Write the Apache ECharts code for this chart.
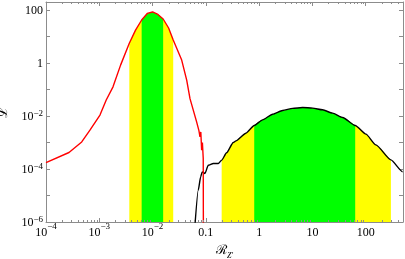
<!DOCTYPE html>
<html><head><meta charset="utf-8">
<script src="https://cdn.jsdelivr.net/npm/echarts@6/dist/echarts.min.js"></script>
<style>html,body{margin:0;padding:0;background:#fff}#c{width:405px;height:259px}</style>
</head><body><div id="c"></div>
<script>
// Red curve (left peak)
const redX = [1.0e-4, 2.7e-4, 4.68e-4, 6.68e-4, 1.03e-3, 1.35e-3, 1.81e-3, 2.51e-3, 3.66e-3, 4.79e-3, 6.24e-3, 7.94e-3, 1.0e-2, 1.26e-2, 1.58e-2, 2.0e-2, 2.44e-2, 3.52e-2, 4.37e-2, 5.04e-2, 6.71e-2, 7.08e-2, 7.41e-2, 7.76e-2, 8.04e-2, 8.34e-2, 8.61e-2, 8.93e-2, 9.0e-2];
const redY = [1.75e-4, 4.19e-4, 1.05e-3, 2.92e-3, 1.08e-2, 0.04, 0.126, 0.83, 5.52, 17.4, 41.9, 74, 84, 67.6, 45.7, 20.9, 7.35, 1.29, 0.226, 0.045, 6.0e-3, 7.1e-3, 2.8e-3, 1.62e-3, 2.5e-3, 5.1e-4, 1.0e-3, 2.5e-4, 1e-7];
// Black curve (right bump)
const blackX = [0.0615, 0.072, 0.0798, 0.0855, 0.0962, 0.111, 0.138, 0.171, 0.198, 0.245, 0.327, 0.367, 0.565, 0.809, 1.16, 1.79, 2.76, 4.25, 6.55, 10.1, 15.5, 23.9, 36.9, 63.5, 101, 155, 297, 492, 501];
const blackY = [5e-7, 1.6e-5, 5.0e-5, 7.8e-5, 6.8e-5, 1.38e-4, 1.62e-4, 1.62e-4, 2.14e-4, 4.1e-4, 1.0e-3, 1.15e-3, 2.24e-3, 4.4e-3, 7.15e-3, 1.17e-2, 1.62e-2, 1.93e-2, 2.10e-2, 1.98e-2, 1.71e-2, 1.28e-2, 8.8e-3, 4.4e-3, 2.06e-3, 8.1e-4, 2.2e-4, 7.9e-5, 7.6e-5];
// Bands [lo, hi]
const redYellow = [3.66e-3, 2.44e-2];
const redGreen = [6.24e-3, 1.58e-2];
const blackYellow = [0.198, 297];
const blackGreen = [0.809, 63.5];
// Axes
const xMin = 1e-4, xMax = 501;
const yMin = 1e-6, yMax = 200;
const xPlainLabels = {'-1': '0.1', '0': '1', '1': '10', '2': '100'};
const yPlainLabels = {'0': '1', '2': '100'};
const minorMult = [2, 3, 4, 5, 6, 7, 8, 9];

const L = Math.log10;
const pts = (xs, ys) => xs.map((x, i) => [L(x), L(ys[i])]);
const band = (xs, ys, r) => pts(xs, ys).filter(p => p[0] >= L(r[0]) - 1e-9 && p[0] <= L(r[1]) + 1e-9);

const FONT = 'Liberation Serif';
const GRAY = '#8c8c8c';
const xRich = {
  b: {fontSize: 12, fontFamily: FONT, color: '#000', verticalAlign: 'bottom', lineHeight: 17},
  s: {fontSize: 9, fontFamily: FONT, color: '#000', verticalAlign: 'top', lineHeight: 17}
};
const yRich = {
  b: {fontSize: 12, fontFamily: FONT, color: '#000', verticalAlign: 'bottom', lineHeight: 14},
  s: {fontSize: 9, fontFamily: FONT, color: '#000', verticalAlign: 'top', lineHeight: 14}
};
function xLab(v) {
  const e = Math.round(v);
  if (Math.abs(v - e) > 1e-6) return '';
  if (e <= -2) return '{b|10}{s|\u2212' + (-e) + '}';
  return '{b|' + xPlainLabels[e] + '}';
}
function yLab(v) {
  const e = Math.round(v);
  if (Math.abs(v - e) > 1e-6 || e % 2 !== 0) return '';
  if (e < 0) return '{b|10}{s|\u2212' + (-e) + '}';
  return '{b|' + yPlainLabels[e] + '}';
}
const minorX = [];
for (let e = Math.floor(L(xMin)); e <= Math.ceil(L(xMax)); e++) {
  for (const m of minorMult) { const v = m * Math.pow(10, e); if (v > xMin && v < xMax) minorX.push(L(v)); }
}

const axisCommon = {
  type: 'value', interval: 1,
  axisLine: {show: true, onZero: false, lineStyle: {color: GRAY, width: 1}},
  axisTick: {show: true, inside: true, length: 4, lineStyle: {color: GRAY}},
  splitLine: {show: false}
};

const chart = echarts.init(document.getElementById('c'), null, {renderer: 'canvas'});
chart.setOption({
  animation: false,
  backgroundColor: '#fff',
  grid: {left: 46, right: 2, top: 2, bottom: 37, containLabel: false, outerBoundsMode: 'none'},
  xAxis: [
    Object.assign({}, axisCommon, {min: L(xMin), max: L(xMax), position: 'bottom',
      axisLabel: {formatter: xLab, rich: xRich, margin: 0, showMaxLabel: true},
      name: '{r|\u211B}{s|Z\u2032}', nameLocation: 'middle', nameGap: 22,
      nameTextStyle: {rich: {
        r: {fontSize: 13, fontFamily: 'DejaVu Serif', color: '#000', verticalAlign: 'top', lineHeight: 16},
        s: {fontSize: 8, fontFamily: FONT, fontStyle: 'italic', color: '#000', verticalAlign: 'bottom', lineHeight: 16}
      }}}),
    Object.assign({}, axisCommon, {min: L(xMin), max: L(xMax), position: 'top', axisLabel: {show: false}})
  ],
  yAxis: [
    Object.assign({}, axisCommon, {min: L(yMin), max: L(yMax), position: 'left',
      axisLabel: {formatter: yLab, rich: yRich, margin: 3},
      name: '\u2112', nameLocation: 'middle', nameGap: 34, nameRotate: 90,
      nameTextStyle: {fontSize: 13, fontFamily: 'DejaVu Serif', color: '#000'}}),
    Object.assign({}, axisCommon, {min: L(yMin), max: L(yMax), position: 'right', axisLabel: {show: false}})
  ],
  series: [
    {type: 'line', data: band(redX, redY, redYellow), showSymbol: false, lineStyle: {width: 0}, areaStyle: {color: '#ffff00', opacity: 1, origin: 'start'}, z: 1, silent: true},
    {type: 'line', data: band(redX, redY, redGreen), showSymbol: false, lineStyle: {width: 0}, areaStyle: {color: '#00ff00', opacity: 1, origin: 'start'}, z: 2, silent: true},
    {type: 'line', data: band(blackX, blackY, blackYellow), showSymbol: false, smooth: 0.2, smoothMonotone: 'x', lineStyle: {width: 0}, areaStyle: {color: '#ffff00', opacity: 1, origin: 'start'}, z: 1, silent: true},
    {type: 'line', data: band(blackX, blackY, blackGreen), showSymbol: false, smooth: 0.2, smoothMonotone: 'x', lineStyle: {width: 0}, areaStyle: {color: '#00ff00', opacity: 1, origin: 'start'}, z: 2, silent: true},
    {type: 'line', data: pts(blackX, blackY), showSymbol: false, smooth: 0.2, smoothMonotone: 'x', lineStyle: {color: '#000', width: 1.4}, z: 3, silent: true},
    {type: 'line', data: pts(redX, redY), showSymbol: false, lineStyle: {color: '#ff0000', width: 1.4}, z: 4, silent: true},
    {type: 'custom', silent: true, z: 5, data: minorX.map(x => [x, L(yMin)]),
      encode: {x: 0, y: 1},
      renderItem: function (params, api) {
        const x = api.value(0);
        const b = api.coord([x, L(yMin)]);
        const t = api.coord([x, L(yMax)]);
        const px = Math.round(b[0]) + 0.5;
        return {type: 'group', children: [
          {type: 'line', shape: {x1: px, y1: b[1], x2: px, y2: b[1] - 2}, style: {stroke: GRAY, lineWidth: 1}},
          {type: 'line', shape: {x1: px, y1: t[1], x2: px, y2: t[1] + 2}, style: {stroke: GRAY, lineWidth: 1}}
        ]};
      }}
  ]
});
</script></body></html>
